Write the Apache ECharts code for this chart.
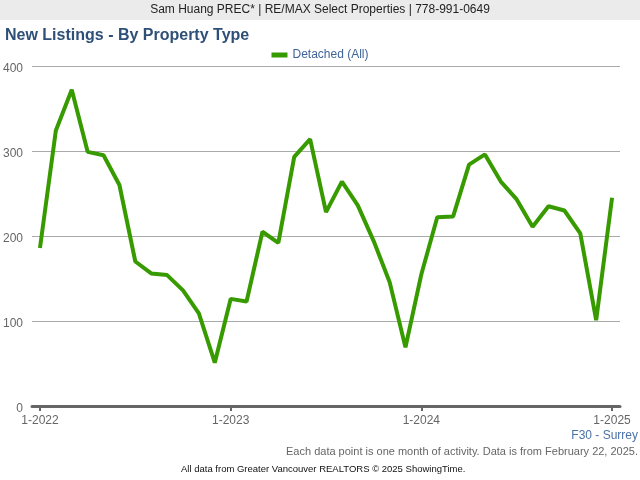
<!DOCTYPE html>
<html><head><meta charset="utf-8">
<script src="https://cdn.jsdelivr.net/npm/echarts@6/dist/echarts.min.js"></script>
<style>html,body{margin:0;padding:0;background:#fff}#c{width:640px;height:480px}</style>
</head><body><div id="c"></div>
<script>
const months = [];
for (let y = 2022; y <= 2025; y++) { for (let m = 1; m <= 12; m++) { if (y === 2025 && m > 1) break; months.push(m + '-' + y); } }
const seriesName = 'Detached (All)';
const detached = [186, 324, 372, 299, 295, 260, 170, 156, 154, 136, 109, 51,
  126, 123, 205, 192, 293, 314, 228, 264, 236, 194, 146, 69,
  155, 222, 223, 284, 296, 264, 243, 211, 235, 230, 203, 101, 245];
const yTicks = [0, 100, 200, 300, 400];

const chart = echarts.init(document.getElementById('c'), null, {renderer: 'canvas'});
const F = 'Liberation Sans, Arial, sans-serif';
chart.setOption({
  animation: false,
  textStyle: {fontFamily: F},
  graphic: [
    {type: 'rect', shape: {x: 0, y: 0, width: 640, height: 20}, style: {fill: '#ebebeb'}, silent: true},
    {type: 'text', left: 'center', top: 4, style: {text: 'Sam Huang PREC* | RE/MAX Select Properties | 778-991-0649', font: '12px ' + F, fill: '#222'}},
    {type: 'text', right: 2, top: 430, style: {text: 'F30 - Surrey', font: '12px ' + F, fill: '#4a72a8'}},
    {type: 'text', right: 2, top: 446, style: {text: 'Each data point is one month of activity. Data is from February 22, 2025.', font: '11px ' + F, fill: '#666'}},
    {type: 'text', left: 181, top: 464, style: {text: 'All data from Greater Vancouver REALTORS \u00a9 2025 ShowingTime.', font: '9.5px ' + F, fill: '#111'}}
  ],
  title: {text: 'New Listings - By Property Type', left: 0, top: 23,
    textStyle: {fontSize: 16, fontWeight: 'bold', color: '#2e4f78', fontFamily: F}},
  legend: {data: [seriesName], top: 44, left: 'center', itemWidth: 16, itemHeight: 5, itemGap: 4,
    icon: 'rect', textStyle: {fontSize: 12, color: '#3f649a', fontFamily: F}},
  grid: {left: 32, right: 20, top: 66, bottom: 74, containLabel: false},
  xAxis: {type: 'category', data: months, boundaryGap: true,
    axisLine: {show: true, lineStyle: {color: '#666', width: 3}},
    axisTick: {show: true, alignWithLabel: true, length: 5, lineStyle: {color: '#666', width: 2},
      interval: (i) => i % 12 === 0},
    axisLabel: {interval: (i) => i % 12 === 0, color: '#666', fontSize: 12, margin: 9, fontFamily: F},
    splitLine: {show: false}},
  yAxis: {type: 'value', min: yTicks[0], max: yTicks[yTicks.length - 1], interval: 100,
    axisLine: {show: false}, axisTick: {show: false},
    axisLabel: {margin: 9, formatter: '{a|{value}}',
      rich: {a: {color: '#666', fontSize: 12, fontFamily: F, padding: [5, 0, 0, 0]}}},
    splitLine: {lineStyle: {color: '#aaa', width: 1}}},
  series: [{name: seriesName, type: 'line', data: detached, showSymbol: false, symbol: 'none',
    lineStyle: {color: '#379b00', width: 4}, itemStyle: {color: '#379b00'}}]
});
</script></body></html>
